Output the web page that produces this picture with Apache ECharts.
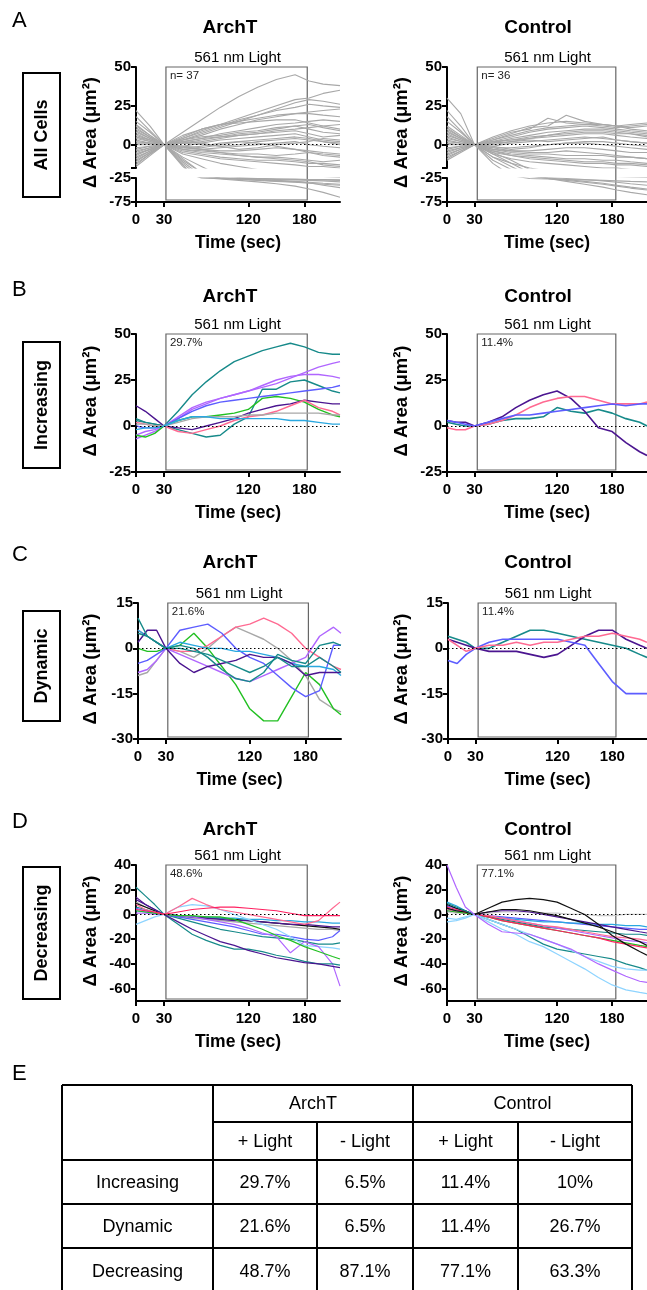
<!DOCTYPE html>
<html><head><meta charset="utf-8">
<script src="https://cdn.jsdelivr.net/npm/echarts@6/dist/echarts.min.js"></script>
<style>html,body{margin:0;padding:0;background:#fff}#c{width:647px;height:1290px}</style>
</head><body><div id="c"></div>
<script>
// ---------------- DATA ----------------
const xTicks = [0, 30, 120, 180];
const tAll = [0,15,30,50,70,90,110,130,150,170,185,200,218];
const tSub = [0,10,20,30,45,60,75,90,105,120,135,150,165,180,195,210,218];

const allArchT = [
 [5,3,0,8,16,24,31,37,42,45,41,39,38],
 [-3,-1,0,4,9,13,17,21,25,29,30,33,35],
 [2,1,0,3,7,11,15,19,23,27,29,28,26],
 [-6,-3,0,5,10,13,15,17,19,20,21,22,23],
 [8,4,0,3,6,10,13,16,18,20,20,19,18],
 [22,12,0,6,10,13,14,15,16,16,14,12,10],
 [-10,-5,0,2,4,7,9,11,13,14,15,16,15],
 [10,5,0,1,3,5,7,8,10,12,13,11,9],
 [0,0,0,2,4,5,6,7,8,9,7,5,6],
 [-12,-6,0,-1,1,3,4,5,6,7,5,3,2],
 [6,3,0,-1,-2,0,2,3,4,5,4,2,0],
 [-8,-4,0,-2,-3,-2,-1,0,1,2,0,-1,-2],
 [12,6,0,-2,-3,-4,-4,-3,-2,-3,-4,-5,-6],
 [-4,-2,0,-3,-4,-5,-6,-6,-7,-6,-5,-7,-8],
 [3,1,0,-3,-5,-6,-7,-8,-8,-9,-10,-11,-10],
 [-14,-7,0,-4,-6,-8,-9,-10,-10,-11,-12,-12,-13],
 [15,8,0,-5,-7,-9,-10,-11,-12,-13,-14,-14,-15],
 [-2,-1,0,-6,-9,-12,-14,-16,-18,-20,-21,-22,-24],
 [9,4,0,-8,-14,-20,-24,-26,-27,-28,-28,-29,-30],
 [-6,-3,0,-10,-18,-24,-26,-27,-28,-29,-30,-31,-33],
 [4,2,0,-12,-22,-26,-28,-30,-32,-34,-36,-38,-40],
 [-9,-4,0,-14,-24,-27,-30,-33,-37,-42,-48,-55,-65],
 [7,3,0,-9,-18,-25,-27,-29,-31,-33,-35,-40,-45],
 [1,1,0,2,1,-1,-3,-2,0,1,2,4,3],
 [-11,-5,0,3,5,6,8,9,11,12,10,8,7],
 [13,6,0,4,8,12,16,19,22,24,26,25,24],
 [18,9,0,1,2,4,6,7,9,10,11,12,13],
 [-13,-6,0,-1,-3,-5,-7,-8,-9,-10,-11,-13,-14],
 [5,2,0,-2,-1,1,2,1,-1,-3,-5,-6,-7],
 [-5,-2,0,1,0,-1,0,2,3,4,3,2,1],
 [-7,-3,0,-11,-20,-25,-26,-26,-27,-27,-28,-28,-29],
 [11,5,0,-13,-25,-26,-27,-28,-30,-32,-34,-36,-38]
];
const allControl = [
 [30,20,0,5,9,12,14,15,14,13,12,11,12],
 [22,12,0,4,8,10,17,14,13,12,11,12,13],
 [10,5,0,3,7,11,12,19,15,13,12,10,9],
 [-5,-2,0,2,5,8,10,11,12,11,10,9,8],
 [8,4,0,1,4,6,8,9,10,10,9,8,7],
 [-10,-5,0,0,2,4,5,6,7,7,6,5,4],
 [5,2,0,-1,1,2,3,4,5,4,3,2,1],
 [3,1,0,-2,-2,-1,0,1,2,2,1,0,-1],
 [-8,-4,0,-3,-4,-4,-3,-2,-2,-3,-4,-5,-5],
 [12,6,0,-3,-5,-6,-6,-7,-7,-7,-8,-8,-9],
 [0,0,0,-4,-6,-7,-8,-9,-9,-10,-10,-11,-12],
 [-3,-1,0,-5,-7,-9,-10,-11,-12,-12,-13,-13,-14],
 [6,3,0,-6,-9,-11,-12,-13,-14,-15,-15,-16,-16],
 [15,8,0,-8,-12,-15,-17,-18,-20,-21,-22,-23,-24],
 [-6,-3,0,-12,-20,-26,-27,-28,-29,-30,-31,-32,-33],
 [4,2,0,-10,-16,-22,-26,-30,-34,-38,-42,-46,-50],
 [-2,-1,0,-6,-12,-18,-25,-28,-32,-36,-40,-44,-48],
 [9,4,0,-8,-14,-20,-26,-32,-38,-44,-50,-55,-60],
 [2,1,0,-5,-10,-16,-24,-26,-28,-31,-34,-37,-40],
 [-4,-2,0,2,3,4,6,7,8,8,7,7,6],
 [7,3,0,3,6,9,11,12,13,13,12,13,14],
 [18,9,0,2,3,5,6,8,9,9,8,7,5],
 [-7,-3,0,-1,-3,-2,0,1,1,0,-1,-2,-3],
 [1,0,0,-2,-4,-5,-5,-4,-5,-6,-7,-8,-9],
 [11,5,0,1,2,3,2,3,4,5,3,2,1],
 [-9,-4,0,-4,-7,-8,-9,-10,-11,-11,-12,-12,-13]
];

const incArchT = [
 [3,2,1,0,8,17,24,30,35,38,41,43,45,43,40,39,39],
 [-7,-5,-3,0,5,10,13,15,17,19,21,23,26,29,32,34,35],
 [-5,-3,-2,0,4,9,12,15,17,19,22,25,27,28,28,27,26],
 [4,2,1,0,-2,-4,-6,-5,1,5,20,20,24,25,22,19,18],
 [0,-1,-1,0,4,8,11,13,14,15,16,17,18,19,20,21,22],
 [-5,-6,-4,0,3,5,5,6,7,9,15,16,15,13,9,6,5],
 [11,8,4,0,-1,-2,0,2,4,7,9,11,12,14,13,12,12],
 [2,1,0,0,-3,-4,-2,0,3,5,6,8,11,14,10,8,6],
 [1,1,0,0,2,4,5,5,5,6,6,7,7,7,7,6,6],
 [-2,-1,-1,0,3,5,5,4,4,4,4,4,3,3,2,1,1]
];
const incControl = [
 [2,1,0,0,1,3,4,4,5,10,8,7,9,7,4,2,0],
 [3,2,2,0,2,5,10,14,17,19,15,8,-1,-3,-9,-14,-16],
 [-1,-2,-2,0,1,3,6,10,13,15,16,16,14,12,12,12,13],
 [3,2,1,0,2,4,6,6,7,8,9,10,11,12,11,12,12]
];

const dynArchT = [
 [-9,-8,-4,0,-1,-3,0,4,7,5,3,0,-4,-9,-17,-20,-21],
 [0,-1,-1,0,1,5,0,-6,-12,-20,-24,-24,-16,-8,-12,-20,-22],
 [6,4,2,0,-1,-1,1,4,7,8,10,8,5,0,-3,-6,-7],
 [-8,-7,-4,0,-2,-4,-6,-8,-10,-11,-9,-7,-5,-3,4,7,5],
 [-5,-4,-2,0,6,7,8,5,0,-3,-5,-9,-13,-16,-14,1,1],
 [6,4,2,0,2,1,0,0,-1,-1,-2,-3,-5,-6,-6,-7,-9],
 [2,6,6,0,-5,-8,-6,-5,-4,-2,-3,-3,-5,-9,-8,-8,-8],
 [10,4,2,0,1,0,-3,-7,-10,-11,-8,-2,-4,-5,1,2,1],
 [5,4,2,0,0,-1,-2,-4,-6,-8,-6,-3,-6,-6,-3,-6,-8]
];
const dynControl = [
 [4,3,2,0,0,2,4,6,6,5,4,3,2,1,0,-2,-3],
 [3,2,1,0,-1,-1,-1,-2,-3,-2,1,4,6,6,3,1,0],
 [-4,-5,-2,0,2,3,3,3,3,3,2,1,-5,-11,-15,-15,-15],
 [3,1,-1,0,1,1,2,1,2,2,3,4,4,5,4,3,2]
];

const decArchT = [
 [10,6,3,0,-2,-3,-4,-5,-6,-7,-8,-9,-10,-11,-12,-12,-13],
 [9,6,3,0,-1,-2,-3,-3,-4,-5,-6,-7,-8,-9,-10,-11,-12],
 [3,2,1,0,-1,-2,-2,-3,-3,-4,-4,-5,-5,-6,-6,-7,-7],
 [14,8,4,0,-1,-2,-3,-4,-5,-5,-6,-7,-8,-8,-9,-10,-10],
 [6,4,2,0,-3,-6,-9,-12,-14,-16,-18,-19,-20,-22,-24,-24,-23],
 [5,3,1,0,-2,-4,-6,-8,-10,-13,-16,-16,-18,-20,-21,-18,-13],
 [-8,-5,-2,0,6,8,7,4,0,-4,-8,-12,-18,-25,-26,-27,-28],
 [1,1,0,0,-1,-2,-4,-6,-8,-11,-15,-18,-31,-22,-26,-40,-58],
 [3,2,1,0,-1,-1,-2,-2,-4,-8,-12,-17,-21,-26,-30,-34,-36],
 [22,15,8,0,-8,-16,-21,-25,-28,-28,-30,-33,-35,-38,-40,-40,-41],
 [12,8,4,0,-6,-12,-17,-22,-25,-29,-32,-35,-37,-39,-40,-42,-43],
 [8,4,2,0,6,13,8,4,2,0,-2,-4,-6,-8,-5,5,10],
 [4,3,2,0,2,4,5,6,6,5,4,3,1,-1,-1,-1,-1]
];
const decControl = [
 [2,1,1,0,1,2,2,2,1,1,0,0,-1,-1,0,0,0],
 [7,5,2,0,-1,-2,-3,-4,-5,-6,-7,-8,-9,-10,-11,-12,-12],
 [10,7,3,0,-2,-3,-4,-5,-6,-6,-7,-7,-8,-8,-9,-9,-10],
 [5,3,2,0,2,3,3,2,0,-2,-4,-6,-8,-10,-12,-14,-15],
 [4,3,1,0,-2,-4,-6,-8,-10,-11,-12,-13,-14,-15,-16,-16,-17],
 [3,2,1,0,-1,-3,-5,-7,-9,-11,-13,-15,-17,-19,-21,-22,-23],
 [4,2,1,0,-1,-3,-5,-7,-9,-10,-12,-14,-16,-18,-19,-20,-21],
 [3,2,1,0,-2,-5,-7,-9,-11,-13,-15,-17,-19,-21,-23,-25,-26],
 [6,4,2,0,-2,-5,-7,-9,-11,-13,-15,-17,-19,-22,-24,-26,-27],
 [5,3,2,0,2,4,4,3,1,-1,-4,-7,-10,-14,-18,-22,-25],
 [8,5,3,0,5,10,12,13,12,10,5,0,-8,-17,-24,-30,-33],
 [9,6,3,0,-4,-8,-12,-18,-24,-28,-30,-32,-34,-36,-40,-43,-45],
 [-6,-5,-3,0,-4,-8,-12,-16,-20,-24,-29,-34,-38,-42,-44,-45,-45],
 [-3,-4,-2,0,-6,-12,-16,-22,-26,-32,-38,-44,-51,-57,-61,-63,-64],
 [40,22,6,0,-8,-14,-15,-16,-20,-24,-28,-34,-40,-45,-50,-54,-55]
];

const tableGroups = ['ArchT', 'Control'];
const tableSub = ['+ Light', '- Light', '+ Light', '- Light'];
const tableRows = ['Increasing', 'Dynamic', 'Decreasing'];
const tableValues = [
 ['29.7%', '6.5%', '11.4%', '10%'],
 ['21.6%', '6.5%', '11.4%', '26.7%'],
 ['48.7%', '87.1%', '77.1%', '63.3%']
];
const panelNotes = ['n= 37', 'n= 36', '29.7%', '11.4%', '21.6%', '11.4%', '48.6%', '77.1%'];
const rowNames = ['All Cells', 'Increasing', 'Dynamic', 'Decreasing'];

// ---------------- STYLE ----------------
const TEAL='#178a8a', VIOLET='#b066ff', BLUE='#5d5dff', GREEN='#22c022', DPURP='#4b1590',
      PINK='#ff6a92', GRAY='#a8a8a8', CYAN='#2aa8e0', RED='#ff2060', LBLUE='#8ed4ff', BLACK='#111111';
const incArchTColors = [TEAL, VIOLET, VIOLET, TEAL, BLUE, GREEN, DPURP, PINK, GRAY, CYAN];
const incControlColors = [TEAL, DPURP, PINK, BLUE];
const dynArchTColors = [GRAY, GREEN, PINK, VIOLET, BLUE, CYAN, DPURP, TEAL, TEAL];
const dynControlColors = [TEAL, DPURP, BLUE, PINK];
const decArchTColors = [GRAY, BLACK, CYAN, DPURP, TEAL, BLUE, LBLUE, VIOLET, GREEN, TEAL, DPURP, PINK, RED];
const decControlColors = ['#c8c8c8', BLUE, CYAN, DPURP, TEAL, VIOLET, PINK, GREEN, RED, BLACK, BLACK, TEAL, LBLUE, LBLUE, VIOLET];

const FONT = '"Liberation Sans", Arial, Helvetica, sans-serif';
const XMAX = 218;

// grids: [left, top, width, height]
const grids = [
 [136, 67, 204, 101], [136, 178, 204, 24],
 [447, 67, 204, 101], [447, 178, 204, 24],
 [136, 334, 204, 138], [447, 334, 204, 138],
 [138, 603, 203, 136], [448, 603, 204, 136],
 [136, 865, 204, 136], [447, 865, 204, 136]
];
// y axes: [min, max, labels, ticks]
const yDefs = [
 [-15, 50, [0,25,50], [-15,0,25,50]], [-75, -25, [-75,-25], [-75,-25]],
 [-15, 50, [0,25,50], [-15,0,25,50]], [-75, -25, [-75,-25], [-75,-25]],
 [-25, 50, [-25,0,25,50], [-25,0,25,50]], [-25, 50, [-25,0,25,50], [-25,0,25,50]],
 [-30, 15, [-30,-15,0,15], [-30,-15,0,15]], [-30, 15, [-30,-15,0,15], [-30,-15,0,15]],
 [-70, 40, [-60,-40,-20,0,20,40], [-60,-40,-20,0,20,40]], [-70, 40, [-60,-40,-20,0,20,40], [-60,-40,-20,0,20,40]]
];
const xShown = [false, true, false, true, true, true, true, true, true, true];

const gridOpt = grids.map(g => ({left: g[0], top: g[1], width: g[2], height: g[3], containLabel: false}));
const xAxisOpt = grids.map((g, i) => ({
  gridIndex: i, type: 'value', min: 0, max: XMAX, show: xShown[i],
  axisLine: {show: true, onZero: false, lineStyle: {color: '#000', width: 2}},
  axisTick: {show: true, length: 5, customValues: xTicks, lineStyle: {color: '#000', width: 2}},
  axisLabel: {customValues: xTicks, margin: 10, color: '#000', fontWeight: 'bold', fontSize: 15, fontFamily: FONT},
  splitLine: {show: false},
  name: 'Time (sec)', nameLocation: 'middle', nameGap: 32,
  nameTextStyle: {color: '#000', fontWeight: 'bold', fontSize: 17.5, fontFamily: FONT}
}));
const yAxisOpt = yDefs.map((d, i) => ({
  gridIndex: i, type: 'value', min: d[0], max: d[1],
  axisLine: {show: true, onZero: false, lineStyle: {color: '#000', width: 2}},
  axisTick: {show: true, length: 5, customValues: d[3], lineStyle: {color: '#000', width: 2}},
  axisLabel: {customValues: d[2], margin: 5, color: '#000', fontWeight: 'bold', fontSize: 15, fontFamily: FONT},
  splitLine: {show: false}
}));

const series = [];
function addLines(lines, times, colors, gi, width, zero) {
  lines.forEach((vals, k) => {
    const s = {
      type: 'line', xAxisIndex: gi, yAxisIndex: gi, symbol: 'none', silent: true, animation: false, clip: true,
      data: times.map((t, j) => [t, vals[j]]),
      lineStyle: {color: colors[k % colors.length], width: width}
    };
    if (zero && k === 0) {
      s.markLine = {silent: true, symbol: 'none', animation: false, label: {show: false},
        lineStyle: {color: '#000', type: [1.5, 2.5], width: 1.2}, data: [{yAxis: 0}]};
    }
    series.push(s);
  });
}
addLines(allArchT, tAll, [GRAY], 0, 1.1, true);
addLines(allArchT, tAll, [GRAY], 1, 1.1, false);
addLines(allControl, tAll, [GRAY], 2, 1.1, true);
addLines(allControl, tAll, [GRAY], 3, 1.1, false);
addLines(incArchT, tSub, incArchTColors, 4, 1.4, true);
addLines(incControl, tSub, incControlColors, 5, 1.6, true);
addLines(dynArchT, tSub, dynArchTColors, 6, 1.4, true);
addLines(dynControl, tSub, dynControlColors, 7, 1.6, true);
addLines(decArchT, tSub, decArchTColors, 8, 1.2, true);
addLines(decControl, tSub, decControlColors, 9, 1.2, true);

const chart = echarts.init(document.getElementById('c'), null, {renderer: 'canvas'});
chart.setOption({animation: false, backgroundColor: '#fff', grid: gridOpt, xAxis: xAxisOpt, yAxis: yAxisOpt, series: series});

// ---------------- ANNOTATIONS ----------------
const g = [];
const txt = (x, y, text, font, align, extra, fill) => Object.assign({
  type: 'text', x: x, y: y, silent: true,
  style: {text: text, fill: fill || '#000', font: font, align: align || 'center', verticalAlign: 'middle',
          textAlign: align || 'center', textVerticalAlign: 'middle'}
}, extra || {});
const line = (x1, y1, x2, y2, w) => ({type: 'line', silent: true, shape: {x1, y1, x2, y2}, style: {stroke: '#000', lineWidth: w || 2}});

// light boxes [topGrid, topVal, botGrid, botVal, t0, t1]
const boxDefs = [
 [0, 50, 1, -75, 32, 183], [2, 50, 3, -75, 33, 184],
 [4, 50, 4, -25, 32, 183], [5, 50, 5, -25, 33, 184],
 [6, 15, 6, -30, 32, 183], [7, 15, 7, -30, 33, 184],
 [8, 40, 8, -70, 32, 183], [9, 40, 9, -70, 33, 184]
];
boxDefs.forEach((b, i) => {
  const p1 = chart.convertToPixel({gridIndex: b[0]}, [b[4], b[1]]);
  const p2 = chart.convertToPixel({gridIndex: b[2]}, [b[5], b[3]]);
  const x = p1[0], y = p1[1], w = p2[0] - p1[0], h = p2[1] - p1[1] - 2;
  g.push({type: 'rect', silent: true, z: -1, shape: {x: x, y: y, width: w, height: h},
          style: {fill: 'none', stroke: '#666', lineWidth: 1.2}});
  g.push(txt(x + w / 2 + 1, y - 9, '561 nm Light', '15px ' + FONT));
  g.push(txt(x + 4, y + 9, panelNotes[i], '11.5px ' + FONT, 'left', null, '#222'));
});

// column titles, letters, row labels, y titles
const titleY = [28, 297, 563, 830];
const letterY = [21, 290, 555, 822];
const letters = ['A', 'B', 'C', 'D'];
const rowBox = [[73, 197], [342, 468], [611, 721], [867, 999]];
const yTitleSpan = [[67, 202], [334, 472], [603, 739], [865, 1001]];
for (let r = 0; r < 4; r++) {
  g.push(txt(230, titleY[r], 'ArchT', 'bold 19px ' + FONT));
  g.push(txt(538, titleY[r], 'Control', 'bold 19px ' + FONT));
  g.push(txt(12, letterY[r], letters[r], '22px ' + FONT, 'left'));
  g.push({type: 'rect', silent: true, shape: {x: 23, y: rowBox[r][0], width: 37, height: rowBox[r][1] - rowBox[r][0]},
          style: {fill: 'none', stroke: '#000', lineWidth: 2}});
  g.push(txt(42, (rowBox[r][0] + rowBox[r][1]) / 2, rowNames[r], 'bold 18px ' + FONT, 'center', {rotation: Math.PI / 2}));
  const cy = (yTitleSpan[r][0] + yTitleSpan[r][1]) / 2 - 2;
  g.push(txt(91, cy, 'Δ Area (μm²)', 'bold 18.5px ' + FONT, 'center', {rotation: Math.PI / 2}));
  g.push(txt(402, cy, 'Δ Area (μm²)', 'bold 18.5px ' + FONT, 'center', {rotation: Math.PI / 2}));
}
g.push(txt(12, 1074, 'E', '22px ' + FONT, 'left'));

// table
const tc = [62, 213, 317, 413, 518, 632];
const tr = [1085, 1122, 1160, 1204, 1248, 1294];
g.push(line(tc[0], tr[0], tc[5], tr[0], 2));
g.push(line(tc[1], tr[1], tc[5], tr[1], 2));
for (let k = 2; k < tr.length; k++) g.push(line(tc[0], tr[k], tc[5], tr[k], 2));
[0, 1, 3, 5].forEach(k => g.push(line(tc[k], tr[0], tc[k], tr[5], 2)));
[2, 4].forEach(k => g.push(line(tc[k], tr[1], tc[k], tr[5], 2)));
const TF = '18px ' + FONT;
g.push(txt((tc[1] + tc[3]) / 2, (tr[0] + tr[1]) / 2 + 1, tableGroups[0], TF));
g.push(txt((tc[3] + tc[5]) / 2, (tr[0] + tr[1]) / 2 + 1, tableGroups[1], TF));
tableSub.forEach((s, k) => g.push(txt((tc[k + 1] + tc[k + 2]) / 2, (tr[1] + tr[2]) / 2 + 1, s, TF)));
tableRows.forEach((name, r) => {
  const cy = (tr[r + 2] + tr[r + 3]) / 2 + 1;
  g.push(txt((tc[0] + tc[1]) / 2, cy, name, TF));
  tableValues[r].forEach((v, k) => g.push(txt((tc[k + 1] + tc[k + 2]) / 2, cy, v, TF)));
});

chart.setOption({graphic: g});
</script></body></html>
